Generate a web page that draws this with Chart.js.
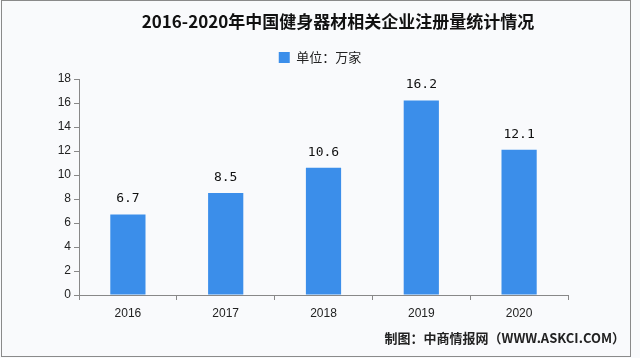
<!DOCTYPE html>
<html><head><meta charset="utf-8">
<script src="https://cdn.jsdelivr.net/npm/chart.js@4/dist/chart.umd.min.js"></script>
<style>html,body{margin:0;padding:0;background:#f9fafc}#wrap{width:640px;height:358px}</style>
</head><body><div id="wrap"><canvas id="c" width="640" height="358"></canvas></div>
<script>
const categories = ['2016','2017','2018','2019','2020'];
const values = [6.7, 8.5, 10.6, 16.2, 12.1];
const yTicks = [0, 2, 4, 6, 8, 10, 12, 14, 16, 18];
const seriesName = '单位：万家';
const titleText = '2016-2020年中国健身器材相关企业注册量统计情况';
const footerText = '制图：中商情报网（WWW.ASKCI.COM）';

const bgPlugin = {
  id: 'bg',
  beforeDraw(chart) {
    const ctx = chart.ctx;
    ctx.save();
    ctx.fillStyle = '#f9fafc';
    ctx.fillRect(0, 0, chart.width, chart.height);
    ctx.restore();
  },
  afterDraw(chart) {
    const ctx = chart.ctx;
    ctx.save();
    ctx.strokeStyle = '#8a8a8a';
    ctx.lineWidth = 1;
    ctx.strokeRect(1.5, 0.5, 629, 356);
    // title
    ctx.fillStyle = '#111';
    ctx.font = 'bold 17px "Noto Sans CJK SC"';
    ctx.textAlign = 'center';
    ctx.textBaseline = 'middle';
    ctx.fillText(titleText, 338, 22);
    // footer
    ctx.fillStyle = '#222';
    ctx.font = 'bold 13px "Noto Sans CJK SC"';
    ctx.textAlign = 'right';
    ctx.fillText(footerText, 625, 338);
    // data labels
    const meta = chart.getDatasetMeta(0);
    ctx.fillStyle = '#111';
    ctx.font = '13px "DejaVu Sans Mono"';
    ctx.textAlign = 'center';
    ctx.textBaseline = 'bottom';
    meta.data.forEach((bar, i) => {
      ctx.fillText(values[i].toFixed(1), bar.x, bar.y - 9);
    });
    ctx.restore();
  }
};

new Chart(document.getElementById('c'), {
  type: 'bar',
  data: {
    labels: categories,
    datasets: [{
      label: seriesName,
      data: values,
      backgroundColor: '#3b8eea',
      borderWidth: 0,
      barPercentage: 0.36,
      categoryPercentage: 1.0
    }]
  },
  options: {
    responsive: false,
    animation: false,
    layout: { padding: { left: 0, right: 0, top: 37, bottom: 38 } },
    plugins: {
      title: { display: false },
      legend: {
        display: true,
        labels: {
          color: '#222',
          font: { family: '"Noto Sans CJK SC"', size: 13 },
          boxWidth: 11, boxHeight: 11, padding: 14
        }
      },
      tooltip: { enabled: false }
    },
    scales: {
      x: {
        afterFit(s) { s.height = 25; },
        grid: { display: true, drawOnChartArea: false, offset: true, tickLength: 5, color: '#888' },
        border: { color: '#888' },
        ticks: { color: '#222', font: { family: '"Liberation Sans"', size: 12 }, padding: 6 }
      },
      xt: {
        type: 'category',
        position: 'top',
        display: true,
        afterFit(s) { s.height = 5; },
        grid: { display: false },
        border: { display: false },
        ticks: { display: false }
      },
      y: {
        min: yTicks[0], max: yTicks[yTicks.length - 1],
        afterFit(s) { s.width = 79; },
        afterBuildTicks(s) { s.ticks = yTicks.map(v => ({ value: v })); },
        grid: { display: true, drawOnChartArea: false, tickLength: 5, color: '#888' },
        border: { color: '#888' },
        ticks: { color: '#222', font: { family: '"Liberation Sans"', size: 12 }, padding: 3 }
      },
      yr: {
        type: 'linear',
        position: 'right',
        display: true,
        afterFit(s) { s.width = 72; },
        grid: { display: false },
        border: { display: false },
        ticks: { display: false }
      }
    }
  },
  plugins: [bgPlugin]
});
</script></body></html>
